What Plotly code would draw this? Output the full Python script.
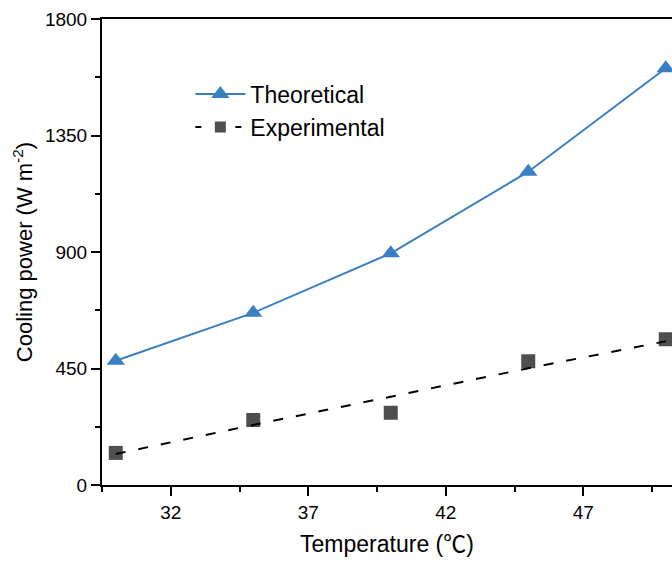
import plotly.graph_objects as go

temps = [30, 35, 40, 45, 50]
theoretical = [480, 665, 895, 1210, 1610]
experimental = [124, 251, 279, 478, 563]
fit_temps = [30, 35, 40, 45, 50]
fit_values = [120, 232, 341, 451, 555]
x_ticks = [32, 37, 42, 47]
y_ticks = [0, 450, 900, 1350, 1800]

blue = "#3a7fc1"
grey = "#4f4f4f"

fig = go.Figure()
fig.add_trace(go.Scatter(
    x=temps, y=theoretical, mode="lines+markers", name="Theoretical",
    line=dict(color=blue, width=2),
    marker=dict(symbol="triangle-up", size=16, color=blue),
))
fig.add_trace(go.Scatter(
    x=temps, y=experimental, mode="markers", name="Experimental",
    marker=dict(symbol="square", size=14, color=grey),
    showlegend=False,
))
fig.add_trace(go.Scatter(
    x=fit_temps, y=fit_values, mode="lines", name="Experimental",
    line=dict(color="black", width=2, dash="10px,13px"),
    showlegend=False,
))
# legend entry for experimental: dashed line + square
fig.add_trace(go.Scatter(
    x=[None], y=[None], mode="lines+markers", name="Experimental",
    line=dict(color="black", width=2, dash="6px,14px"),
    marker=dict(symbol="square", size=11, color=grey),
))

fig.update_layout(
    width=672, height=562,
    margin=dict(l=102, r=0, t=19, b=77),
    plot_bgcolor="white", paper_bgcolor="white",
    font=dict(family="Liberation Sans, Arial, sans-serif", color="black"),
    showlegend=True,
    legend=dict(x=0.155, y=0.885, xanchor="left", yanchor="top",
                font=dict(size=23), bgcolor="rgba(0,0,0,0)",
                tracegroupgap=0, itemwidth=50),
    xaxis=dict(
        range=[29.5, 29.5 + 570 / 27.5],
        tickvals=x_ticks, ticks="outside", ticklen=9, tickwidth=1.5,
        tickcolor="black", tickfont=dict(size=19),
        minor=dict(dtick=5, tick0=29.5, ticks="outside", ticklen=5,
                   tickwidth=1.5, tickcolor="black"),
        showline=True, linecolor="black", linewidth=2, mirror=True,
        showgrid=False, zeroline=False,
        title=dict(text="Temperature (<span style=\"font-family:'Noto Sans CJK SC'\">℃</span>)",
                   font=dict(size=23), standoff=14),
    ),
    yaxis=dict(
        range=[0, 1800],
        tickvals=y_ticks, ticks="outside", ticklen=9, tickwidth=1.5,
        tickcolor="black", tickfont=dict(size=19),
        minor=dict(dtick=225, ticks="outside", ticklen=5,
                   tickwidth=1.5, tickcolor="black"),
        showline=True, linecolor="black", linewidth=2, mirror=False,
        showgrid=False, zeroline=False,
        title=dict(text="Cooling power (W m<sup>-2</sup>)", font=dict(size=22),
                   standoff=6),
    ),
)

fig.write_html("out.html")
